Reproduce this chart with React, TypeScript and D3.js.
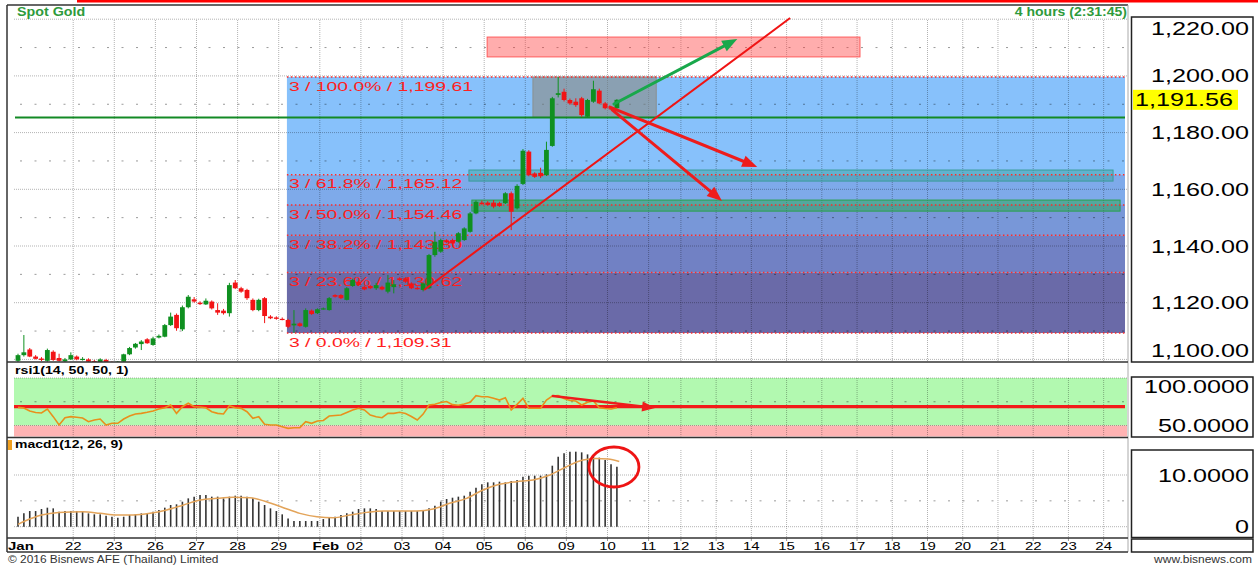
import React from 'react';
import * as d3 from 'd3';

const FONT = "'Liberation Sans', Arial, Helvetica, sans-serif";

// 4-hour candles [open, high, low, close]
const ohlc: [number, number, number, number][] = [
  [1099.5,1102.0,1099.0,1101.5],[1101.5,1108.6,1101.0,1102.5],[1103.5,1104.0,1100.8,1101.0],[1101.0,1101.5,1100.0,1100.2],
  [1100.3,1100.8,1099.4,1099.8],[1099.5,1103.8,1099.2,1103.3],[1102.7,1103.2,1099.5,1099.8],[1100.5,1102.0,1099.2,1099.5],
  [1099.3,1100.5,1099.0,1100.0],[1100.0,1102.5,1099.8,1101.5],[1101.0,1101.4,1099.7,1100.0],[1100.0,1100.8,1099.6,1100.2],
  [1100.0,1100.4,1099.0,1099.2],[1099.4,1099.8,1098.8,1099.0],[1099.0,1100.4,1098.8,1100.0],[1099.8,1100.2,1098.8,1099.0],
  [1099.0,1099.3,1098.5,1098.8],[1098.8,1099.4,1098.4,1099.2],[1099.2,1102.0,1099.0,1101.8],[1101.8,1104.4,1101.5,1104.0],
  [1104.2,1105.8,1103.8,1105.5],[1105.4,1106.8,1103.3,1106.3],[1107.1,1107.5,1105.5,1105.7],[1105.1,1108.0,1104.8,1107.4],
  [1107.7,1108.8,1107.4,1108.3],[1108.0,1112.5,1107.8,1112.1],[1112.1,1116.5,1111.8,1115.1],[1115.7,1116.2,1110.1,1111.0],
  [1110.6,1119.0,1110.0,1118.4],[1118.4,1122.7,1118.0,1122.1],[1121.2,1122.0,1120.0,1120.4],[1120.0,1120.5,1119.2,1119.5],
  [1119.4,1121.5,1119.2,1120.7],[1120.4,1120.8,1117.6,1118.0],[1117.4,1119.8,1115.7,1116.5],[1117.2,1117.8,1115.8,1116.3],
  [1116.3,1127.0,1115.1,1126.2],[1127.1,1128.0,1124.8,1125.1],[1125.1,1125.6,1123.5,1123.9],[1124.5,1124.9,1121.0,1121.6],
  [1121.0,1121.5,1117.0,1117.4],[1117.4,1121.4,1117.0,1121.0],[1121.6,1122.0,1112.8,1115.3],[1115.1,1115.6,1114.2,1114.5],
  [1114.8,1115.2,1114.0,1114.3],[1114.3,1114.8,1113.8,1114.1],[1113.9,1114.3,1111.0,1111.5],[1112.0,1117.4,1109.4,1112.6],
  [1112.7,1113.0,1111.5,1111.8],[1111.5,1118.0,1111.2,1117.4],[1117.2,1117.6,1115.7,1116.0],[1116.3,1118.0,1116.0,1117.7],
  [1117.9,1118.3,1117.6,1118.0],[1117.4,1122.0,1117.2,1121.6],[1122.7,1123.0,1121.8,1122.1],[1122.7,1123.0,1121.3,1121.6],
  [1121.0,1125.5,1120.8,1125.1],[1125.9,1128.5,1125.6,1128.0],[1127.4,1127.8,1125.9,1126.2],[1125.6,1126.0,1124.4,1124.7],
  [1125.9,1126.2,1124.8,1125.1],[1125.1,1127.0,1124.5,1126.2],[1125.6,1126.0,1124.4,1124.7],[1123.9,1129.8,1123.3,1127.1],
  [1125.5,1128.0,1123.3,1126.5],[1128.6,1129.0,1127.7,1128.0],[1128.6,1129.0,1127.0,1127.4],[1126.8,1127.2,1124.8,1125.1],
  [1125.2,1125.7,1124.6,1125.0],[1124.5,1127.2,1124.0,1126.8],[1125.1,1137.2,1124.8,1136.8],[1136.8,1145.0,1136.2,1141.5],
  [1138.0,1142.6,1137.6,1142.1],[1141.9,1142.4,1141.0,1141.3],[1142.1,1142.6,1140.6,1140.9],[1141.5,1144.9,1141.2,1144.5],
  [1142.1,1146.6,1141.8,1146.2],[1145.0,1152.0,1144.7,1151.5],[1151.5,1156.1,1151.2,1155.6],[1155.3,1156.0,1154.5,1154.8],
  [1155.3,1155.8,1154.2,1154.5],[1155.3,1156.2,1153.3,1153.9],[1155.1,1155.6,1153.8,1154.1],[1155.1,1159.0,1154.8,1158.6],
  [1158.6,1159.2,1145.6,1152.1],[1153.3,1161.8,1152.9,1161.2],[1161.9,1174.2,1161.5,1173.6],[1173.3,1173.8,1164.6,1165.0],
  [1165.6,1166.0,1164.0,1164.4],[1165.8,1167.6,1164.0,1164.6],[1165.0,1176.8,1164.7,1173.9],[1175.3,1192.6,1175.0,1192.1],
  [1193.3,1199.6,1192.4,1193.9],[1194.4,1195.5,1191.0,1191.5],[1191.5,1192.0,1189.8,1190.3],[1190.9,1192.1,1189.1,1189.7],
  [1192.1,1192.6,1185.6,1186.2],[1185.6,1191.9,1185.3,1191.5],[1190.9,1198.3,1190.5,1195.3],[1194.8,1195.5,1190.0,1190.3],
  [1190.3,1190.8,1188.2,1188.6],[1188.6,1189.0,1188.0,1188.3],[1188.6,1191.8,1188.4,1191.56],
];

const rsi = [
  69.1,68.4,65.3,63.7,63.2,67.4,59.3,50.5,58.2,59.3,58.6,57.9,54.0,55.8,56.8,50.5,52.3,52.3,56.8,60.0,
  62.1,62.8,63.9,65.3,67.4,68.7,71.6,62.8,69.8,73.4,69.8,69.5,68.7,64.5,62.8,62.1,70.8,68.7,68.0,64.5,
  57.6,59.3,51.3,50.5,50.5,48.7,47.0,47.7,47.7,54.0,52.3,54.7,55.3,60.0,60.5,61.0,63.7,66.3,68.1,66.3,
  61.0,59.3,58.2,62.8,62.8,63.9,62.6,59.5,55.8,62.0,71.6,72.3,74.2,75.3,72.0,71.3,72.6,74.4,81.4,80.3,
  80.3,78.6,76.8,79.3,66.3,72.3,78.6,68.1,68.1,68.1,76.8,81.0,81.4,78.4,76.3,75.8,71.6,74.4,75.8,68.7,
  67.9,67.4,68.7,
];

const macd = [
  1.93,2.58,3.03,3.03,3.42,3.68,3.55,2.9,3.03,3.03,
  3.03,3.03,2.58,2.39,2.39,2.13,1.93,1.74,1.93,2.26,
  2.39,2.58,2.58,2.9,3.23,3.68,4.2,4.33,4.84,5.48,
  5.81,6.13,6.13,5.81,5.81,5.48,5.81,6.0,6.0,5.81,
  5.48,4.84,4.2,3.55,3.03,2.39,1.61,1.1,1.1,1.1,
  1.1,1.1,1.48,1.74,1.93,2.26,2.58,2.9,3.42,3.55,
  3.55,3.42,3.03,3.03,3.03,3.03,3.03,3.03,3.03,3.23,
  3.55,4.07,4.84,5.36,5.61,5.81,6.0,6.78,7.55,8.2,
  8.58,8.58,8.71,8.58,8.84,9.03,9.68,9.87,9.87,9.87,
  10.13,11.8,13.54,14.19,14.51,14.51,14.38,13.99,13.54,13.35,
  12.9,12.06,11.61,
];

// signal line, read as [candle index, value]
const signal: [number, number][] = [
  [0,0.46],[1.2,1.1],[4,2.26],[6.9,2.77],[11,2.9],[14,2.58],[16.8,2.26],[19.6,2.26],[22.5,2.58],[25.3,3.23],
  [28.2,4.2],[31,5.16],[33.8,5.48],[36.7,5.68],[39.5,5.61],[42.3,4.84],[45.2,3.68],[48,2.58],[50.9,1.93],[53.7,1.74],
  [56.5,2.26],[59.4,2.77],[62.2,3.03],[65,3.03],[67.9,3.03],[70.7,3.42],[73.5,4.52],[76.4,5.48],[79.2,7.1],[82,8.2],
  [84.9,8.71],[87.7,9.03],[90.6,10.0],[93.4,11.6],[96.2,12.9],[98.4,13.2],[100.5,13.1],[102.4,12.6],
];

const priceTicks = [1100, 1120, 1140, 1160, 1180, 1200, 1220];
const priceMinor = [1110, 1130, 1150, 1170, 1190, 1210];
const lastPrice = 1191.56;
const supportLine = 1185.3;

const fibLevels = [
  { pct: '100.0%', value: 1199.61 },
  { pct: '61.8%', value: 1165.12 },
  { pct: '50.0%', value: 1154.46 },
  { pct: '38.2%', value: 1143.80 },
  { pct: '23.6%', value: 1130.62 },
  { pct: '0.0%', value: 1109.31 },
];
const fibColors = ['#87c1fb', '#7eaaea', '#7897d8', '#7181c4', '#6a6aa8'];
const fibStart = 45.8;

const dayLabels = ['22','23','26','27','28','29','Feb','02','03','04','05','06','09','10','11',
  '12','13','14','15','16','17','18','19','20','21','22','23','24'];
const dayPos = [9.4,16.4,23.4,30.4,37.4,44.4,51.4,58.4,65.4,72.4,79.4,86.4,93.4,100.4,107.4,
  112.9,118.9,124.9,130.9,136.9,142.9,148.9,154.9,160.9,166.9,172.9,178.9,184.9];

const rsiTicks = [100, 50];
const rsiLevel = 69.8;
const macdTicks = [10, 0];

// annotations in data units [candle index, price]
const mainArrows = [
  { from: [101.5, 1190.1], to: [122.5, 1213.0], color: '#18a84b' },
  { from: [100.8, 1189.0], to: [125.9, 1167.9], color: '#ee1c1c' },
  { from: [101.2, 1188.0], to: [119.9, 1155.9], color: '#ee1c1c' },
];
const trendLine = [[69.15, 1124.5], [131.5, 1220.4]];
const targetZone = { x: [79.9, 143.4], y: [1206.7, 1213.7] };
const rangeBox = { x: [87.7, 108.7], y: [1185.4, 1199.61] };
const tealZone = { x: [76.8, 186.5], y: [1162.9, 1166.8] };
const greenZone = { x: [77.3, 187.7], y: [1152.3, 1156.2] };
const rsiArrow = { from: [91.1, 81.0], to: [108.5, 68.4] };
const macdCircle = { c: [101.5, 11.55] };

function T({ x, y, sx = 1, anchor = 'start', size = 12, weight = 'normal', fill = '#000', children }: any) {
  return (
    <text transform={`translate(${x},${y}) scale(${sx},1)`} textAnchor={anchor} fontSize={size}
      fontWeight={weight} fill={fill} fontFamily={FONT}>{children}</text>
  );
}

function Arrow({ x1, y1, x2, y2, color, w = 3, head = 15, hw = 6 }: any) {
  const dx = x2 - x1, dy = y2 - y1, len = Math.hypot(dx, dy);
  const ux = dx / len, uy = dy / len;
  const bx = x2 - ux * head, by = y2 - uy * head;
  const px = -uy * hw, py = ux * hw;
  return (
    <g>
      <line x1={x1} y1={y1} x2={bx + ux * 2} y2={by + uy * 2} stroke={color} strokeWidth={w} strokeLinecap="round" />
      <polygon points={`${x2},${y2} ${bx + px},${by + py} ${bx - px},${by - py}`} fill={color} />
    </g>
  );
}

export default function App() {
  const L = 14, R = 1127;
  const x = d3.scaleLinear().domain([0, 102]).range([18, 616.9]);
  const yP = d3.scaleLinear().domain([1100, 1220]).range([359.4, 19.2]);
  const yR = d3.scaleLinear().domain([50, 100]).range([425.5, 378]);
  const yM = d3.scaleLinear().domain([0, 10]).range([526.7, 475]);
  const fmt = d3.format(',.2f');
  const fmt4 = d3.format('.4f');
  const green = '#0f9020', red = '#f21416';
  const gridC = 'rgba(0,0,0,0.3)';

  const mainTop = 20, mainBot = 362;
  const rsiTop = 378, rsiBot = 436.5;
  const macdTop = 450, macdBot = 537;

  const rsiPath = d3.line<number>().x((_, i) => x(i)).y(d => yR(d))(rsi) as string;
  const sigPath = d3.line<[number, number]>().x(d => x(d[0])).y(d => yM(d[1])).curve(d3.curveMonotoneX)(signal) as string;

  const fibRight = R - 2;
  const vGrid = (top: number, bot: number) =>
    dayPos.map((d, i) => (
      <line key={i} x1={x(d)} x2={x(d)} y1={top} y2={bot} stroke={gridC} strokeDasharray="1,1" />
    ));

  return (
    <svg width={1258} height={565} style={{ position: 'absolute', left: 0, top: 0, background: '#fff' }}>
      <rect x={0} y={0} width={1258} height={565} fill="#fff" />
      <rect x={77} y={0} width={1181} height={2.5} fill="#ff0000" />

      {/* ===== MAIN PANEL ===== */}
      {fibLevels.slice(0, -1).map((f, i) => (
        <rect key={i} x={x(fibStart)} width={fibRight - x(fibStart)}
          y={yP(f.value)} height={yP(fibLevels[i + 1].value) - yP(f.value)} fill={fibColors[i]} />
      ))}
      {priceTicks.map(t => (
        <line key={t} x1={L} x2={R} y1={yP(t)} y2={yP(t)} stroke={gridC} strokeDasharray="1,1" />
      ))}
      {priceMinor.map(t => (
        <line key={t} x1={L + 6} x2={R} y1={yP(t)} y2={yP(t)} stroke="rgba(0,0,0,0.4)" strokeDasharray="2,12.5" />
      ))}
      {vGrid(mainTop, mainBot)}

      {/* zones */}
      <rect x={x(targetZone.x[0])} width={x(targetZone.x[1]) - x(targetZone.x[0])}
        y={yP(targetZone.y[1])} height={yP(targetZone.y[0]) - yP(targetZone.y[1])}
        fill="rgba(255,60,60,0.42)" stroke="#ff5a5a" strokeWidth={1} />
      <rect x={x(rangeBox.x[0])} width={x(rangeBox.x[1]) - x(rangeBox.x[0])}
        y={yP(rangeBox.y[1])} height={yP(rangeBox.y[0]) - yP(rangeBox.y[1])}
        fill="rgba(140,140,132,0.62)" stroke="#8a9090" strokeWidth={1} />
      <rect x={x(tealZone.x[0])} width={x(tealZone.x[1]) - x(tealZone.x[0])}
        y={yP(tealZone.y[1])} height={yP(tealZone.y[0]) - yP(tealZone.y[1])}
        fill="rgba(50,160,150,0.45)" stroke="#3a9c9a" strokeWidth={1} />
      <rect x={x(greenZone.x[0])} width={x(greenZone.x[1]) - x(greenZone.x[0])}
        y={yP(greenZone.y[1])} height={yP(greenZone.y[0]) - yP(greenZone.y[1])}
        fill="rgba(40,165,80,0.5)" stroke="#2aa050" strokeWidth={1} />

      {/* fib lines + labels */}
      {fibLevels.map(f => (
        <g key={f.pct}>
          <line x1={x(fibStart)} x2={fibRight} y1={yP(f.value)} y2={yP(f.value)}
            stroke="#ff2a2a" strokeWidth={1.5} strokeDasharray="1.5,2.5" />
          <T x={x(fibStart) + 2} y={yP(f.value) + 13.5} size={13} sx={1.49} fill="#ff2020">
            {`3 / ${f.pct} / ${fmt(f.value)}`}
          </T>
        </g>
      ))}

      <line x1={L + 1} x2={R - 2} y1={yP(supportLine)} y2={yP(supportLine)} stroke="#138a25" strokeWidth={2} />

      {/* candles */}
      {ohlc.map(([o, h, l, c], i) => {
        const up = c >= o;
        const col = up ? green : red;
        const top = yP(Math.max(o, c));
        const bh = Math.max(1.2, Math.abs(yP(o) - yP(c)));
        const lowY = Math.min(yP(l), mainBot);
        return (
          <g key={i}>
            <line x1={x(i)} x2={x(i)} y1={yP(h)} y2={lowY} stroke={col} strokeWidth={1} />
            <rect x={x(i) - 2.4} width={4.8} y={top} height={Math.min(bh, mainBot - top)} fill={col} />
          </g>
        );
      })}

      <line x1={x(trendLine[0][0])} y1={yP(trendLine[0][1])} x2={x(trendLine[1][0])} y2={yP(trendLine[1][1])}
        stroke="#f01414" strokeWidth={2} />
      {mainArrows.map((a, i) => (
        <Arrow key={i} x1={x(a.from[0])} y1={yP(a.from[1])} x2={x(a.to[0])} y2={yP(a.to[1])} color={a.color} w={3} />
      ))}

      {/* title row */}
      <T x={17} y={16} size={12} weight="bold" sx={1.19} fill="#2e9a3c">Spot Gold</T>
      <T x={1127} y={16} size={12} weight="bold" sx={1.17} fill="#2e9a3c" anchor="end">4 hours (2:31:45)</T>

      {/* price axis box */}
      <rect x={1131.5} y={17} width={121.5} height={345} fill="#fff" stroke="#222" strokeWidth={1.5} />
      {priceTicks.map(t => (
        <T key={t} x={1249} y={Math.max(28, Math.min(350, yP(t))) + 6.5} size={18} sx={1.4} anchor="end">{fmt(t)}</T>
      ))}
      <rect x={1133} y={yP(lastPrice) - 10} width={105} height={20} fill="#ffff00" />
      <T x={1135} y={yP(lastPrice) + 6.5} size={18} sx={1.4}>{fmt(lastPrice)}</T>

      {/* ===== RSI PANEL ===== */}
      <T x={15} y={374} size={11} weight="bold" sx={1.29}>rsi1(14, 50, 50, 1)</T>
      <rect x={L} y={rsiTop} width={R - L} height={yR(50) - rsiTop} fill="#b2f9b0" />
      <rect x={L} y={yR(50)} width={R - L} height={rsiBot - yR(50)} fill="#ffb3b3" />
      <line x1={L} x2={R} y1={rsiTop} y2={rsiTop} stroke={gridC} strokeDasharray="1,1" />
      <line x1={L} x2={R} y1={yR(50)} y2={yR(50)} stroke={gridC} strokeDasharray="1,1" />
      <line x1={L + 6} x2={R} y1={yR(75)} y2={yR(75)} stroke="rgba(0,0,0,0.4)" strokeDasharray="2,12.5" />
      {vGrid(rsiTop, rsiBot)}
      <line x1={L} x2={R - 2} y1={yR(rsiLevel)} y2={yR(rsiLevel)} stroke="#f31a1a" strokeWidth={3.2} />
      <path d={rsiPath} fill="none" stroke="#e8901c" strokeWidth={1.6} />
      <Arrow x1={x(rsiArrow.from[0])} y1={yR(rsiArrow.from[1])} x2={x(rsiArrow.to[0])} y2={yR(rsiArrow.to[1])}
        color="#ee1c1c" w={2.6} head={13} hw={5} />
      <rect x={1131.5} y={377} width={121.5} height={60} fill="#fff" stroke="#222" strokeWidth={1.5} />
      {rsiTicks.map(t => (
        <T key={t} x={1249} y={Math.max(386, Math.min(426, yR(t))) + 6.5} size={18} sx={1.4} anchor="end">{fmt4(t)}</T>
      ))}

      {/* ===== MACD PANEL ===== */}
      <rect x={7.5} y={440} width={4.5} height={10} fill="#f0a020" />
      <T x={15} y={448} size={11} weight="bold" sx={1.27}>macd1(12, 26, 9)</T>
      <line x1={L} x2={R} y1={yM(10)} y2={yM(10)} stroke={gridC} strokeDasharray="1,1" />
      <line x1={L} x2={R} y1={yM(0)} y2={yM(0)} stroke={gridC} strokeDasharray="1,1" />
      <line x1={L + 6} x2={R} y1={yM(5)} y2={yM(5)} stroke="rgba(0,0,0,0.4)" strokeDasharray="2,12.5" />
      {vGrid(macdTop, macdBot)}
      {macd.map((v, i) => (
        <line key={i} x1={x(i)} x2={x(i)} y1={yM(0)} y2={yM(v)} stroke="#333" strokeWidth={1.6} />
      ))}
      <path d={sigPath} fill="none" stroke="#e3a45a" strokeWidth={1.5} />
      <ellipse cx={x(macdCircle.c[0])} cy={yM(macdCircle.c[1])} rx={25} ry={20} fill="none" stroke="#ee1414" strokeWidth={2.8} />
      <rect x={1131.5} y={450} width={121.5} height={87.5} fill="#fff" stroke="#222" strokeWidth={1.5} />
      {macdTicks.map(t => (
        <T key={t} x={1249} y={yM(t) + 6.5} size={18} sx={1.4} anchor="end">{t === 0 ? '0' : fmt4(t)}</T>
      ))}

      {/* ===== DATE AXIS ===== */}
      {dayPos.map((d, i) => (
        <line key={i} x1={x(d)} x2={x(d)} y1={538} y2={541} stroke="#999" />
      ))}
      <T x={8} y={550} size={11} weight="bold" sx={1.36}>Jan</T>
      {dayLabels.map((lab, i) => {
        const isMonth = lab === 'Feb';
        const nudge = isMonth ? 6 : lab === '02' && i === 7 ? -6 : 0;
        return (
          <T key={i} x={x(dayPos[i]) + nudge} y={550} size={11} sx={1.36} anchor="middle"
            weight={isMonth ? 'bold' : 'normal'}>{lab}</T>
        );
      })}
      <rect x={1131.5} y={539} width={121.5} height={13} fill="#fff" stroke="#222" strokeWidth={1.5} />

      {/* frame */}
      <line x1={7} x2={7} y1={5} y2={552} stroke="#333" strokeWidth={1.5} />
      <line x1={7} x2={1128} y1={5} y2={5} stroke="#333" strokeWidth={1.5} />
      <line x1={1128} x2={1128} y1={5} y2={552} stroke="#aaa" strokeWidth={1} />
      <line x1={7} x2={1128} y1={362} y2={362} stroke="#333" strokeWidth={1.5} />
      <line x1={7} x2={1128} y1={437.5} y2={437.5} stroke="#333" strokeWidth={1.5} />
      <line x1={7} x2={1128} y1={538} y2={538} stroke="#333" strokeWidth={1.5} />
      <line x1={7} x2={1128} y1={552} y2={552} stroke="#333" strokeWidth={1.5} />

      {/* footer */}
      <T x={8} y={563} size={10} sx={1.19} fill="#333">© 2016 Bisnews AFE (Thailand) Limited</T>
      <T x={1252} y={563} size={10} sx={1.2} fill="#333" anchor="end">www.bisnews.com</T>
    </svg>
  );
}
